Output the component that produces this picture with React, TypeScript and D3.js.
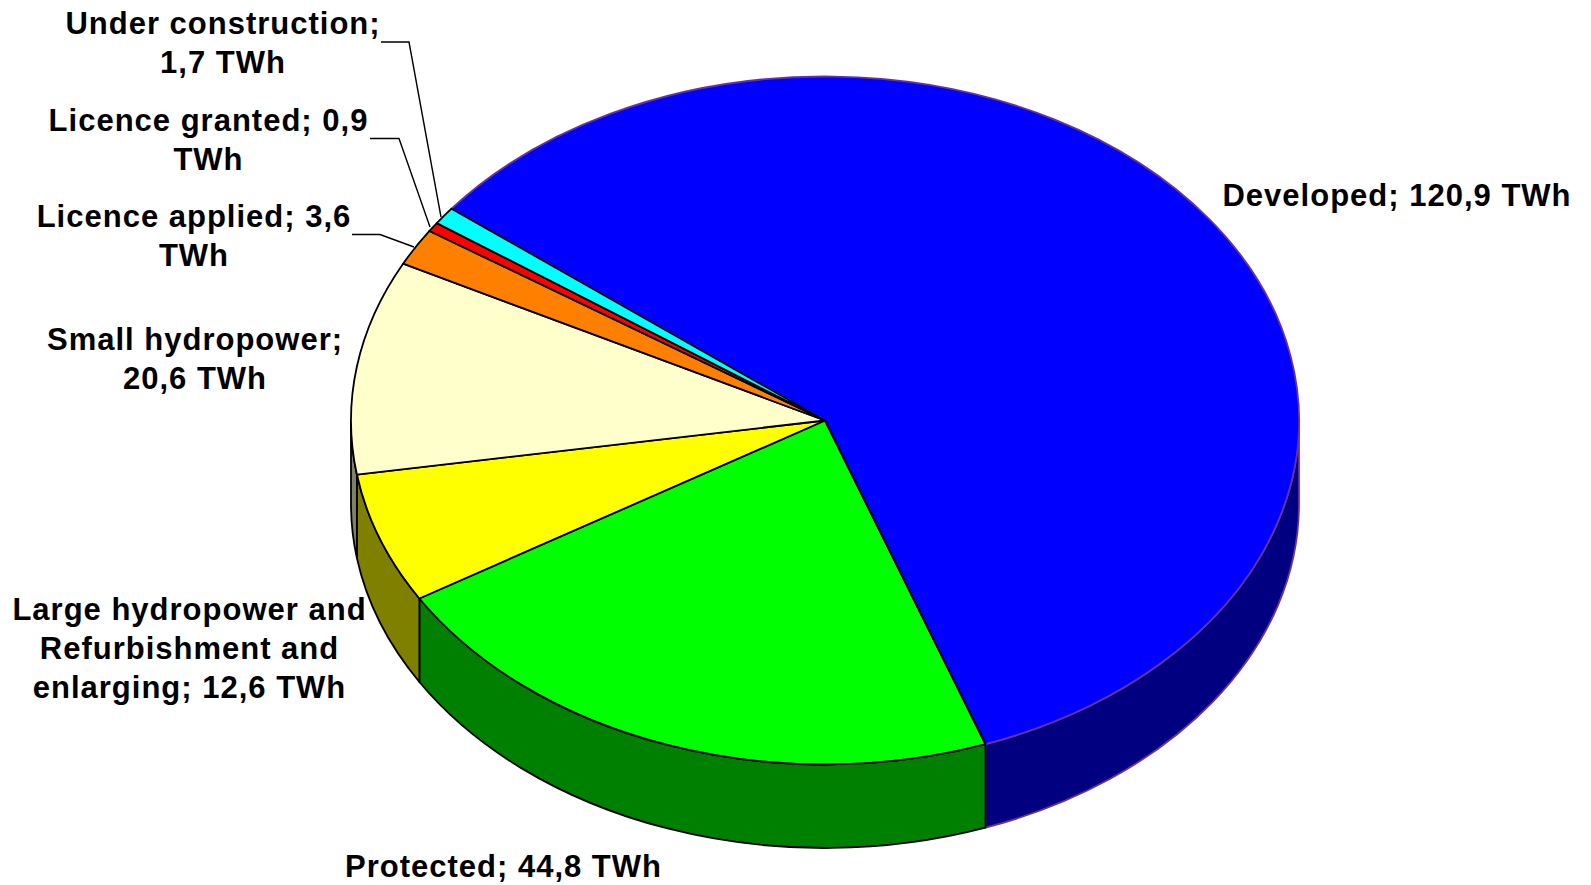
import * as d3 from "d3";

const categories = [
  "Developed",
  "Protected",
  "Large hydropower and Refurbishment and enlarging",
  "Small hydropower",
  "Licence applied",
  "Licence granted",
  "Under construction",
];
const values = [120.9, 44.8, 12.6, 20.6, 3.6, 0.9, 1.7];
const topColours = ["#0000ff", "#00ff00", "#ffff00", "#ffffcc", "#ff8000", "#ff0000", "#00ffff"];
const wallColours = ["#000080", "#008000", "#808000", "#808066", "#804000", "#800000", "#008080"];
const outlineColours = ["#663399", "#000", "#000", "#000", "#000", "#000", "#000"];
const labelLines = [
  ["Developed; 120,9 TWh"],
  ["Protected; 44,8 TWh"],
  ["Large hydropower and", "Refurbishment and", "enlarging; 12,6 TWh"],
  ["Small hydropower;", "20,6 TWh"],
  ["Licence applied; 3,6", "TWh"],
  ["Licence granted; 0,9", "TWh"],
  ["Under construction;", "1,7 TWh"],
];

// label placement, same order as categories
const labelPos = [
  [1397, 206],
  [503.5, 877],
  [189.5, 620],
  [195, 350],
  [194, 226.5],
  [208.5, 131],
  [223, 34],
];
// leaders: text end, elbow, point on the slice
const leaders = [
  { slice: 4, pts: [[352, 234.5], [380, 234.5], [414, 247]] },
  { slice: 5, pts: [[370, 138.5], [399, 138.5], [430, 227]] },
  { slice: 6, pts: [[381, 42], [409, 42], [441, 217]] },
];

const W = 1591;
const H = 885;
const cx = 825;
const cy = 420.5;
const rx = 474;
const ry = 344;
const depth = 83.5;
const START = (-52 * Math.PI) / 180;

const pie = d3
  .pie<number>()
  .sort(null)
  .startAngle(START)
  .endAngle(START + 2 * Math.PI);
const slices = pie(values);

const arc = d3.arc<d3.PieArcDatum<number>>().innerRadius(0).outerRadius(rx);

const px = (a: number) => cx + rx * Math.sin(a);
const py = (a: number) => cy - ry * Math.cos(a);

// the rim only shows on the front half of the ellipse
const wallPath = (a0: number, a1: number) => {
  const from = Math.max(a0, Math.PI / 2);
  const to = Math.min(a1, (3 * Math.PI) / 2);
  if (to <= from) return null;
  return (
    `M${px(from)},${py(from)}` +
    `A${rx},${ry} 0 0 1 ${px(to)},${py(to)}` +
    `L${px(to)},${py(to) + depth}` +
    `A${rx},${ry} 0 0 0 ${px(from)},${py(from) + depth}Z`
  );
};

const leaderLine = d3.line();

export default function App() {
  return (
    <svg
      width={W}
      height={H}
      viewBox={`0 0 ${W} ${H}`}
      style={{ position: "absolute", left: 0, top: 0, background: "#fff" }}
    >
      <g>
        {slices.map((s, i) => {
          const d = wallPath(s.startAngle, s.endAngle);
          return d ? (
            <path
              key={categories[i]}
              d={d}
              fill={wallColours[i]}
              stroke={outlineColours[i]}
              strokeWidth={1.8}
              strokeLinejoin="round"
            />
          ) : null;
        })}
      </g>
      <g transform={`translate(${cx},${cy}) scale(1,${ry / rx})`}>
        {slices.map((s, i) => (
          <path
            key={categories[i]}
            d={arc(s) ?? ""}
            fill={topColours[i]}
            stroke={outlineColours[i]}
            strokeWidth={1.8}
            strokeLinejoin="round"
            vectorEffect="non-scaling-stroke"
          />
        ))}
      </g>
      <path
        d={`M${cx},${cy}L${px(slices[1].startAngle)},${py(slices[1].startAngle)}`}
        stroke="#000"
        strokeWidth={1.8}
      />
      <g fill="none" stroke="#000" strokeWidth={1.4}>
        {leaders.map((l) => (
          <path key={l.slice} d={leaderLine(l.pts as [number, number][]) ?? ""} />
        ))}
      </g>
      <g
        fontFamily="'Liberation Sans', Arial, sans-serif"
        fontWeight="bold"
        fontSize={31}
        letterSpacing={1}
        textAnchor="middle"
        fill="#000"
      >
        {labelLines.map((lines, i) => (
          <text key={categories[i]} x={labelPos[i][0]} y={labelPos[i][1]}>
            {lines.map((line, j) => (
              <tspan key={line} x={labelPos[i][0]} dy={j === 0 ? 0 : 39}>
                {line}
              </tspan>
            ))}
          </text>
        ))}
      </g>
    </svg>
  );
}
